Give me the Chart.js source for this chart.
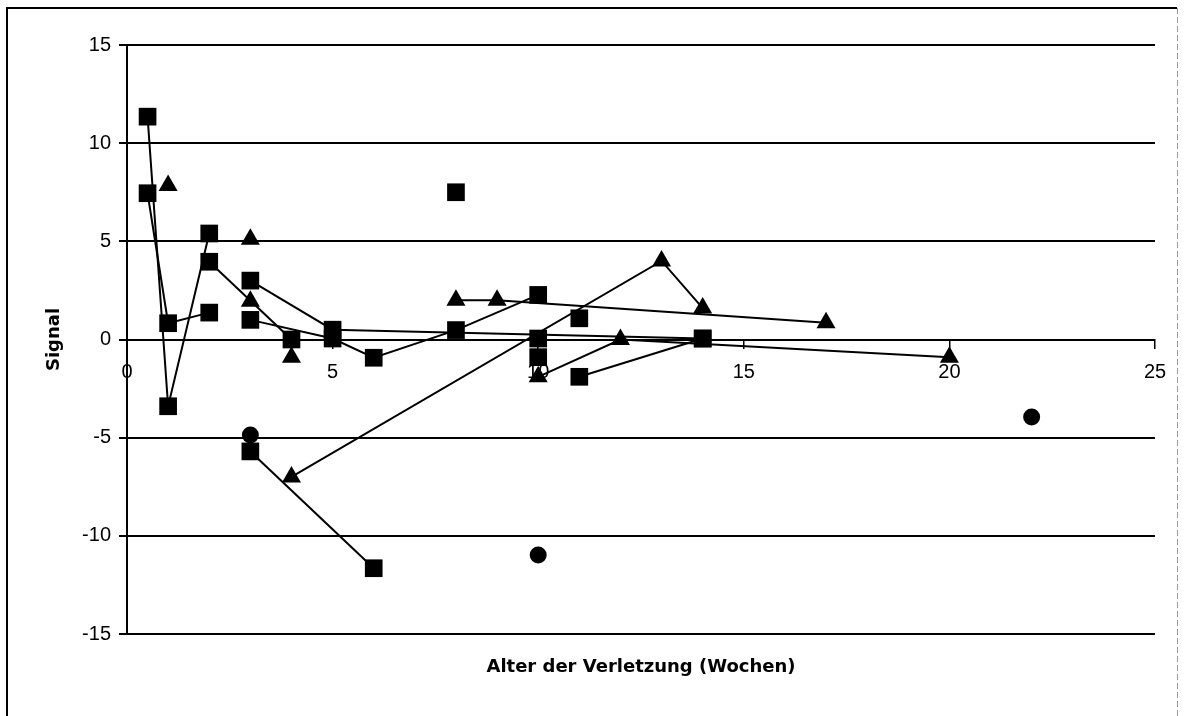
<!DOCTYPE html>
<html><head><meta charset="utf-8">
<script src="https://cdn.jsdelivr.net/npm/chart.js@4.4.1/dist/chart.umd.min.js"></script>
<style>html,body{margin:0;padding:0;background:#fff}#wrap{width:1184px;height:716px;position:relative}</style>
</head><body><div id="wrap"><canvas id="c" width="1184" height="716"></canvas></div>
<script>
const xTicks = [0, 5, 10, 15, 20, 25];
const yTicks = [-15, -10, -5, 0, 5, 10, 15];
const xTitle = 'Alter der Verletzung (Wochen)';
const yTitle = 'Signal';

// connected square series [x, y]
const sqLineA = [[0.5, 11.35], [1, -3.4], [2, 5.4]];
const sqLineB = [[0.5, 7.45], [1, 0.83], [2, 1.37]];
const sqLineC = [[2, 3.96], [4, 0]];
const sqLineD = [[3, 3.0], [5, 0.5], [14, 0.05]];
const sqLineE = [[3, 1.0], [5, 0.05], [6, -0.93], [8, 0.48], [10, 2.27]];
const sqLineF = [[3, -5.7], [6, -11.65]];
const sqLineG = [[11, -1.9], [14, 0.05]];
// connected triangle series
const triLineA = [[4, -7.0], [13, 4.0], [14, 1.6]];
const triLineB = [[8, 2.0], [9, 2.0], [17, 0.85]];
const triLineC = [[10, -1.9], [12, 0], [20, -0.9]];
// single markers
const sqSingle = [[8, 7.5], [10, 0.05], [10, -0.9], [11, 1.08]];
const triSingle = [[1, 7.85], [3, 5.1], [3, 1.95], [4, -0.9]];
const dotSingle = [[3, -4.87], [10, -10.98], [22, -3.95]];

const SQ_R = 12.5, TRI_R = 11, DOT_R = 8.5;

function ds(arr, style, r, line) {
  return {
    data: arr.map(([x, y]) => ({x, y})),
    showLine: line,
    borderColor: '#000',
    borderWidth: 2,
    tension: 0,
    pointStyle: style,
    pointRadius: r,
    pointBackgroundColor: '#000',
    pointBorderColor: '#000',
    pointBorderWidth: 0,
    xAxisID: 'x',
    yAxisID: 'y'
  };
}

const datasets = [
  ds(sqLineA, 'rect', SQ_R, true),
  ds(sqLineB, 'rect', SQ_R, true),
  ds(sqLineC, 'rect', SQ_R, true),
  ds(sqLineD, 'rect', SQ_R, true),
  ds(sqLineE, 'rect', SQ_R, true),
  ds(sqLineF, 'rect', SQ_R, true),
  ds(sqLineG, 'rect', SQ_R, true),
  ds(triLineA, 'triangle', TRI_R, true),
  ds(triLineB, 'triangle', TRI_R, true),
  ds(triLineC, 'triangle', TRI_R, true),
  ds(sqSingle, 'rect', SQ_R, false),
  ds(triSingle, 'triangle', TRI_R, false),
  ds(dotSingle, 'circle', DOT_R, false)
];

const frame = {
  id: 'frame',
  beforeDraw(c) {
    const ctx = c.ctx;
    ctx.save();
    ctx.strokeStyle = '#000';
    ctx.lineWidth = 2;
    ctx.beginPath();
    ctx.moveTo(7, 720); ctx.lineTo(7, 8); ctx.lineTo(1177, 8);
    ctx.stroke();
    ctx.strokeStyle = '#999';
    ctx.lineWidth = 1;
    ctx.setLineDash([6, 3]);
    ctx.beginPath();
    ctx.moveTo(1177.5, 8); ctx.lineTo(1177.5, 716);
    ctx.stroke();
    ctx.restore();
  }
};

const tickFont = {family: 'Liberation Sans', size: 20};
const titleFont = {family: 'DejaVu Sans', size: 18, weight: 'bold'};

new Chart(document.getElementById('c'), {
  type: 'scatter',
  data: {datasets},
  plugins: [frame],
  options: {
    responsive: false,
    animation: false,
    events: [],
    layout: {padding: {top: 45, right: 29, left: 0, bottom: 0}},
    plugins: {legend: {display: false}, tooltip: {enabled: false}},
    scales: {
      x: {
        type: 'linear', position: {y: 0}, min: 0, max: 25,
        afterBuildTicks: s => { s.ticks = xTicks.map(v => ({value: v})); },
        grid: {drawOnChartArea: false, drawTicks: true, tickLength: 8, color: '#000', lineWidth: 1.5},
        border: {display: true, color: '#000', width: 2},
        ticks: {color: '#000', font: tickFont, padding: 13, maxRotation: 0, autoSkip: false}
      },
      xt: {
        type: 'linear', axis: 'x', position: 'bottom', min: 0, max: 25,
        ticks: {display: false}, grid: {display: false}, border: {display: false},
        title: {display: true, text: xTitle, color: '#000', font: titleFont, padding: {top: 0, bottom: 38}},
        afterFit: s => { s.height = 82; }
      },
      y: {
        type: 'linear', position: 'left', min: -15, max: 15,
        afterBuildTicks: s => { s.ticks = yTicks.map(v => ({value: v})); },
        grid: {color: '#000', lineWidth: 2, tickLength: 8, drawTicks: true},
        border: {display: true, color: '#000', width: 2},
        ticks: {color: '#000', font: tickFont, padding: 8},
        title: {display: true, text: yTitle, color: '#000', font: titleFont, padding: {top: 44, bottom: 0}},
        afterFit: s => { s.width = 127; }
      }
    }
  }
});
</script>
</body></html>
